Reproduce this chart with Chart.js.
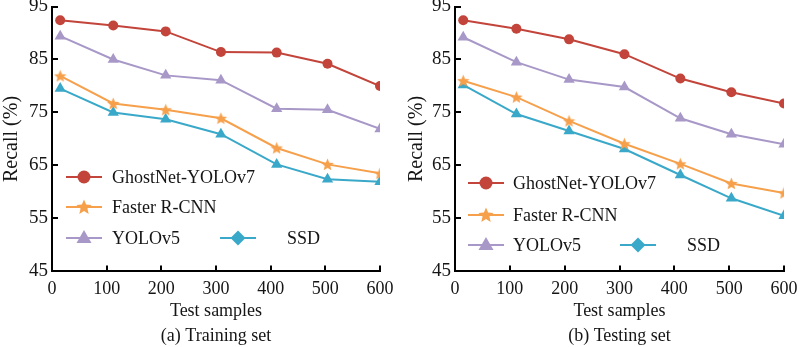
<!DOCTYPE html>
<html>
<head>
<meta charset="utf-8">
<script src="https://cdn.jsdelivr.net/npm/chart.js@4.4.1/dist/chart.umd.min.js"></script>
<style>
  html, body { margin: 0; padding: 0; background: #fff; }
  #wrap { width: 800px; height: 347px; display: flex; }
  canvas { display: block; }
</style>
</head>
<body>
<div id="wrap">
  <canvas id="trainChart" width="400" height="347"></canvas>
  <canvas id="testChart" width="400" height="347"></canvas>
</div>
<script>
// ---- data ----
const seriesNames = ['GhostNet-YOLOv7', 'Faster R-CNN', 'YOLOv5', 'SSD'];
const sampleCounts = [15, 112, 208, 309, 411, 504, 600];
const xTicks = [0, 100, 200, 300, 400, 500, 600];
const yTicks = [45, 55, 65, 75, 85, 95];

const trainGhostNet = [92.4, 91.4, 90.3, 86.4, 86.3, 84.2, 80.0];
const trainFaster   = [81.9, 76.7, 75.5, 73.9, 68.3, 65.2, 63.5];
const trainYolo5    = [89.4, 85.0, 82.0, 81.1, 75.7, 75.5, 71.9];
const trainSSD      = [79.5, 75.0, 73.7, 70.9, 65.2, 62.4, 61.9];

const testGhostNet  = [92.4, 90.8, 88.8, 86.0, 81.4, 78.8, 76.7];
const testFaster    = [81.0, 77.9, 73.4, 69.1, 65.3, 61.6, 59.8];
const testYolo5     = [89.2, 84.5, 81.2, 79.8, 73.9, 70.9, 69.0];
const testSSD       = [80.2, 74.7, 71.5, 68.1, 63.2, 58.8, 55.5];

// ---- styling ----
const SERIF = '"Liberation Serif", "Times New Roman", serif';
const TEXT = '#151515';
const COLORS = ['#c2443a', '#f6a04c', '#a898c8', '#3aa9c9'];

function starPath(g, cx, cy, R, r) {
  g.beginPath();
  for (let i = 0; i < 10; i++) {
    const a = -Math.PI / 2 + i * Math.PI / 5;
    const rr = i % 2 ? r : R;
    g.lineTo(cx + rr * Math.cos(a), cy + rr * Math.sin(a));
  }
  g.closePath();
}
function starCanvas(color, size) {
  const c = document.createElement('canvas');
  c.width = c.height = size;
  const g = c.getContext('2d');
  starPath(g, size / 2, size / 2 + 0.5, size / 2, size / 2 * 0.45);
  g.fillStyle = color;
  g.fill();
  return c;
}
const plotStar = starCanvas(COLORS[1], 13);

const markerStyles = [
  { pointStyle: 'circle', pointRadius: 5 },
  { pointStyle: plotStar, pointRadius: 6 },
  { pointStyle: 'triangle', pointRadius: 6.5 },
  { pointStyle: 'triangle', pointRadius: 6.5 }
];
// legend symbols (SSD shown as a diamond in the key)
const legendSymbols = ['circle', 'star', 'triangle', 'diamond'];

function drawSymbol(ctx, kind, x, y, color) {
  ctx.save();
  ctx.fillStyle = color;
  ctx.beginPath();
  if (kind === 'circle') {
    ctx.arc(x, y, 6.5, 0, Math.PI * 2);
  } else if (kind === 'star') {
    starPath(ctx, x, y + 0.5, 8, 3.6);
  } else if (kind === 'triangle') {
    ctx.moveTo(x, y - 8);
    ctx.lineTo(x + 7.5, y + 5);
    ctx.lineTo(x - 7.5, y + 5);
    ctx.closePath();
  } else if (kind === 'diamond') {
    ctx.moveTo(x, y - 7.5);
    ctx.lineTo(x + 7.5, y);
    ctx.lineTo(x, y + 7.5);
    ctx.lineTo(x - 7.5, y);
    ctx.closePath();
  }
  ctx.fill();
  ctx.restore();
}

// inward tick marks and the in-plot key
const decorPlugin = {
  id: 'decor',
  afterDraw(chart, args, opts) {
    const { ctx, chartArea, scales } = chart;
    ctx.save();
    ctx.strokeStyle = '#000';
    ctx.lineWidth = 2;
    xTicks.slice(1).forEach(v => {
      const px = Math.round(scales.x.getPixelForValue(v));
      ctx.beginPath();
      ctx.moveTo(px, chartArea.bottom);
      ctx.lineTo(px, chartArea.bottom - 6);
      ctx.stroke();
    });
    yTicks.slice(1).forEach(v => {
      const py = Math.round(scales.y.getPixelForValue(v));
      ctx.beginPath();
      ctx.moveTo(chartArea.left, py);
      ctx.lineTo(chartArea.left + 6, py);
      ctx.stroke();
    });
    ctx.restore();

    // key
    ctx.save();
    ctx.font = '18px ' + SERIF;
    ctx.textBaseline = 'middle';
    ctx.textAlign = 'left';
    opts.items.forEach(item => {
      const ds = chart.data.datasets[item.ds];
      const x0 = chartArea.left + item.x;
      const y0 = item.y;
      ctx.strokeStyle = ds.borderColor;
      ctx.lineWidth = 2;
      ctx.beginPath();
      ctx.moveTo(x0, y0);
      ctx.lineTo(x0 + 36, y0);
      ctx.stroke();
      drawSymbol(ctx, legendSymbols[item.ds], x0 + 18, y0, ds.borderColor);
      ctx.fillStyle = TEXT;
      ctx.fillText(ds.label, x0 + item.gap, y0 + 1);
    });
    ctx.restore();
  }
};

function buildChart(canvasId, series, cfg) {
  const datasets = seriesNames.map((name, i) => ({
    label: name,
    data: sampleCounts.map((x, j) => ({ x, y: series[i][j] })),
    borderColor: COLORS[i],
    backgroundColor: COLORS[i],
    pointBackgroundColor: COLORS[i],
    pointBorderColor: COLORS[i],
    pointBorderWidth: 0,
    pointStyle: markerStyles[i].pointStyle,
    pointRadius: markerStyles[i].pointRadius,
    borderWidth: 2,
    tension: 0,
    fill: false,
    order: i
  }));

  return new Chart(document.getElementById(canvasId), {
    type: 'line',
    data: { datasets },
    options: {
      responsive: false,
      animation: false,
      layout: { padding: { top: 5, right: cfg.padRight, bottom: 0, left: 0 } },
      plugins: {
        legend: { display: false },
        tooltip: { enabled: false },
        title: {
          display: true,
          text: cfg.caption,
          position: 'bottom',
          fullSize: false,
          color: TEXT,
          font: { family: SERIF, size: 18, weight: 'normal' },
          padding: { top: 2, bottom: 0 }
        },
        decor: { items: cfg.keyItems }
      },
      scales: {
        x: {
          type: 'linear',
          min: 0,
          max: 600,
          afterBuildTicks: s => { s.ticks = xTicks.map(v => ({ value: v })); },
          afterFit: s => { s.height = 52; s.paddingLeft = 0; s.paddingRight = 0; },
          grid: { display: false, drawTicks: false },
          border: { display: true, color: '#000', width: 2 },
          ticks: { color: TEXT, font: { family: SERIF, size: 18 }, padding: 7, maxRotation: 0, autoSkip: false },
          title: {
            display: true,
            text: 'Test samples',
            color: TEXT,
            font: { family: SERIF, size: 18 },
            padding: { top: 0, bottom: 1 }
          }
        },
        y: {
          min: 45,
          max: 95,
          afterBuildTicks: s => { s.ticks = yTicks.map(v => ({ value: v })); },
          afterFit: s => { s.width = cfg.axisLeft; s.paddingTop = 0; s.paddingBottom = 0; },
          grid: { display: false, drawTicks: false },
          border: { display: true, color: '#000', width: 2 },
          ticks: { color: TEXT, font: { family: SERIF, size: 19 }, padding: 4, autoSkip: false },
          title: {
            display: true,
            text: 'Recall (%)',
            color: TEXT,
            font: { family: SERIF, size: 20 },
            padding: { top: cfg.titlePad, bottom: 0 }
          }
        }
      }
    },
    plugins: [decorPlugin]
  });
}

buildChart('trainChart', [trainGhostNet, trainFaster, trainYolo5, trainSSD], {
  caption: '(a) Training set',
  axisLeft: 52,
  padRight: 20,
  titlePad: 0,
  keyItems: [
    { ds: 0, x: 14, y: 177, gap: 46 },
    { ds: 1, x: 14, y: 207, gap: 46 },
    { ds: 2, x: 14, y: 238, gap: 46 },
    { ds: 3, x: 168, y: 238, gap: 67 }
  ]
});

buildChart('testChart', [testGhostNet, testFaster, testYolo5, testSSD], {
  caption: '(b) Testing set',
  axisLeft: 55,
  padRight: 16,
  titlePad: 5,
  keyItems: [
    { ds: 0, x: 13, y: 183, gap: 45 },
    { ds: 1, x: 13, y: 215, gap: 45 },
    { ds: 2, x: 13, y: 245, gap: 45 },
    { ds: 3, x: 165, y: 245, gap: 67 }
  ]
});
</script>
</body>
</html>
